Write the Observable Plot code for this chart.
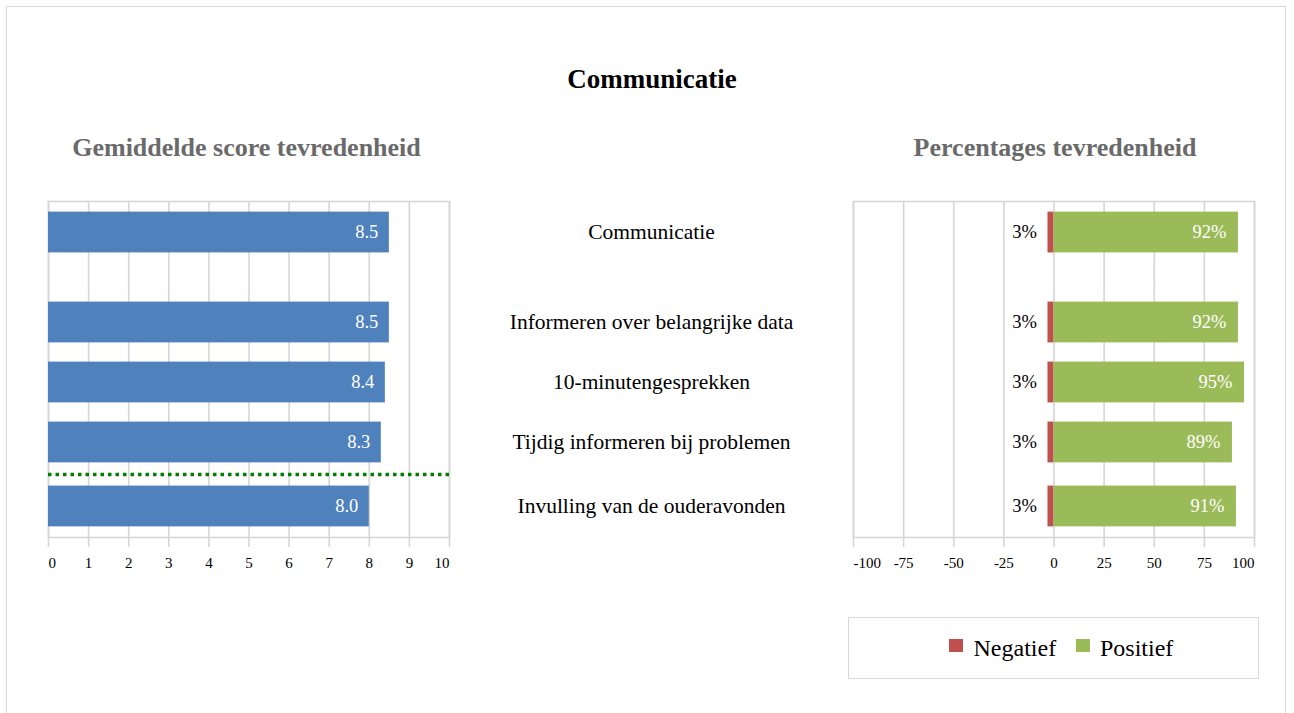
<!DOCTYPE html>
<html>
<head>
<meta charset="utf-8">
<script src="https://cdn.jsdelivr.net/npm/d3@7"></script>
<script src="https://cdn.jsdelivr.net/npm/@observablehq/plot@0.6"></script>
<style>
  html, body { margin: 0; padding: 0; background: #fff; }
  body { width: 1294px; height: 713px; overflow: hidden; position: relative; font-family: "Liberation Serif", "Times New Roman", serif; }
  .frame { position: absolute; left: 6px; top: 6px; width: 1280px; height: 800px; border: 1.5px solid #d9d9d9; box-sizing: border-box; }
  .txt { position: absolute; white-space: nowrap; text-align: center; line-height: 1; }
  .title { font-weight: bold; font-size: 27px; color: #000; }
  .sub { font-weight: bold; font-size: 26px; color: #6a6a6a; }
  .panel { position: absolute; }
  .legend { position: absolute; left: 848px; top: 617px; width: 411px; height: 62px; border: 1.5px solid #d9d9d9; box-sizing: border-box; }
  .sw { position: absolute; width: 14px; height: 13px; }
  .lt { position: absolute; font-size: 24px; line-height: 1; color: #000; white-space: nowrap; }
</style>
</head>
<body>
<div class="frame"></div>
<div id="title" class="txt title"></div>
<div id="subL" class="txt sub"></div>
<div id="subR" class="txt sub"></div>
<div id="left" class="panel"></div>
<div id="mid" class="panel"></div>
<div id="right" class="panel"></div>
<div id="legend" class="legend"></div>
<script>
// ---- data ----
const chartTitle = "Communicatie";
const leftSubtitle = "Gemiddelde score tevredenheid";
const rightSubtitle = "Percentages tevredenheid";
const categories = [
  "Communicatie",
  "Informeren over belangrijke data",
  "10-minutengesprekken",
  "Tijdig informeren bij problemen",
  "Invulling van de ouderavonden"
];
const scores = [8.5, 8.5, 8.4, 8.3, 8.0];
const negatief = [3, 3, 3, 3, 3];
const positief = [92, 92, 95, 89, 91];
const scoreTicks = [0, 1, 2, 3, 4, 5, 6, 7, 8, 9, 10];
const pctTicks = [-100, -75, -50, -25, 0, 25, 50, 75, 100];
const legendLabels = ["Negatief", "Positief"];
const benchmarkAfter = "Tijdig informeren bij problemen";

// ---- layout helpers ----
const FONT = '"Liberation Serif", "Times New Roman", serif';
const blue = "#4f81bd", red = "#c0504d", green = "#9bbb59", grid = "#d6d6d6";
const headerGap = 0.5, benchGap = 0.067, halfBar = 0.34, pad = 0.517;
const benchIdx = categories.indexOf(benchmarkAfter);
const rows = categories.map((c, i) => ({
  category: c, score: scores[i], neg: negatief[i], pos: positief[i],
  y: i + (i > 0 ? headerGap : 0) + (i > benchIdx ? benchGap : 0)
}));
const benchY = (rows[benchIdx].y + rows[benchIdx + 1].y) / 2;
const yDomain = [rows[0].y - pad, rows[rows.length - 1].y + pad];

const H = 400, MT = 11, MB = 53;
const yOpt = {domain: yDomain, reverse: true, axis: null, label: null};
const style = {fontFamily: FONT, fontSize: "15px", color: "#000", background: "transparent", overflow: "visible"};

function axes(ticks, fmt) {
  const inner = ticks.slice(1, -1);
  const common = {tickSize: 10, tickPadding: 10, stroke: grid, strokeWidth: 1.6, fill: "#000", fontSize: 15, tickFormat: fmt, label: null};
  return [
    Plot.axisX({...common, ticks: inner}),
    Plot.axisX({...common, ticks: [ticks[0]], textAnchor: "start"}),
    Plot.axisX({...common, ticks: [ticks[ticks.length - 1]], textAnchor: "end"})
  ];
}

// ---- left chart ----
const left = Plot.plot({
  width: 480, height: H, marginLeft: 48, marginRight: 31, marginTop: MT, marginBottom: MB,
  style,
  x: {domain: [0, 10], label: null},
  y: yOpt,
  marks: [
    Plot.gridX(scoreTicks, {stroke: grid, strokeOpacity: 1, strokeWidth: 1.6}),
    Plot.frame({stroke: grid, strokeWidth: 1.6}),
    Plot.rectX(rows, {x1: 0, x2: "score", y1: d => d.y - halfBar, y2: d => d.y + halfBar, fill: blue}),
    Plot.text(rows, {x: "score", y: "y", text: d => d.score.toFixed(1), dx: -11, textAnchor: "end", fill: "#fff", fontSize: 18.5, fontFamily: FONT}),
    Plot.ruleY([benchY], {stroke: "#008000", strokeWidth: 3.5, strokeDasharray: "3.5,4"}),
    ...axes(scoreTicks, d => `${d}`)
  ]
});

// ---- middle labels ----
const mid = Plot.plot({
  width: 382, height: H, marginLeft: 0, marginRight: 0, marginTop: MT, marginBottom: MB,
  style,
  x: {axis: null}, y: yOpt,
  marks: [
    Plot.text(rows, {y: "y", text: "category", fontSize: 21.5, fill: "#000", fontFamily: FONT})
  ]
});

// ---- right chart ----
const right = Plot.plot({
  width: 474, height: H, marginLeft: 33, marginRight: 40, marginTop: MT, marginBottom: MB,
  style,
  x: {domain: [-100, 100], label: null},
  y: yOpt,
  marks: [
    Plot.gridX(pctTicks, {stroke: grid, strokeOpacity: 1, strokeWidth: 1.6}),
    Plot.frame({stroke: grid, strokeWidth: 1.6}),
    Plot.rectX(rows, {x1: d => -d.neg, x2: 0, y1: d => d.y - halfBar, y2: d => d.y + halfBar, fill: red}),
    Plot.rectX(rows, {x1: 0, x2: "pos", y1: d => d.y - halfBar, y2: d => d.y + halfBar, fill: green}),
    Plot.text(rows, {x: d => -d.neg, y: "y", text: d => `${d.neg}%`, dx: -11, textAnchor: "end", fill: "#000", fontSize: 18.5, fontFamily: FONT}),
    Plot.text(rows, {x: "pos", y: "y", text: d => `${d.pos}%`, dx: -12, textAnchor: "end", fill: "#fff", fontSize: 18.5, fontFamily: FONT}),
    ...axes(pctTicks, d => `${d}`)
  ]
});

function place(id, node, x, y) {
  const el = document.getElementById(id);
  el.style.left = x + "px"; el.style.top = y + "px";
  el.appendChild(node);
}
place("left", left, 0, 190);
place("mid", mid, 460, 190);
place("right", right, 820, 190);

// ---- titles ----
function centerText(id, text, cx, baseline, fs) {
  const el = document.getElementById(id);
  el.textContent = text;
  el.style.top = (baseline - 0.8375 * fs) + "px";
  el.style.left = (cx - 400) + "px";
  el.style.width = "800px";
}
centerText("title", chartTitle, 652, 88.5, 27);
centerText("subL", leftSubtitle, 246.5, 156.5, 26);
centerText("subR", rightSubtitle, 1055, 156.5, 26);

// ---- legend ----
const lg = document.getElementById("legend");
const legendColors = [red, green];
const swX = [100, 226.5], txX = [124.5, 251];
legendLabels.forEach((lab, i) => {
  const sw = document.createElement("div");
  sw.className = "sw"; sw.style.background = legendColors[i];
  sw.style.left = swX[i] + "px"; sw.style.top = "21px";
  lg.appendChild(sw);
  const t = document.createElement("div");
  t.className = "lt"; t.textContent = lab;
  t.style.left = txX[i] + "px"; t.style.top = (38 - 0.8375 * 24) + "px";
  lg.appendChild(t);
});
</script>
</body>
</html>
